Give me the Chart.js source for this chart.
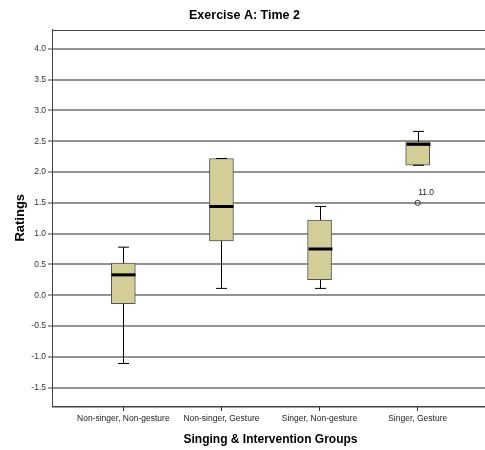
<!DOCTYPE html>
<html>
<head>
<meta charset="utf-8">
<script src="https://cdn.jsdelivr.net/npm/chart.js@4/dist/chart.umd.min.js"></script>
<style>
  html, body { margin: 0; padding: 0; background: #fff; overflow: hidden; }
  #wrap { width: 496px; height: 450px; }
</style>
</head>
<body>
<div id="wrap"><canvas id="chart" width="496" height="450"></canvas></div>
<script>
// Groups on the horizontal axis
const groups = ['Non-singer, Non-gesture', 'Non-singer, Gesture', 'Singer, Non-gesture', 'Singer, Gesture'];

// Five-number summaries per group
const whiskerLow  = [-1.11, 0.11, 0.11, 2.11];
const quartile1   = [-0.14, 0.88, 0.25, 2.11];
const medians     = [ 0.33, 1.44, 0.75, 2.45];
const quartile3   = [ 0.52, 2.22, 1.22, 2.49];
const whiskerHigh = [ 0.78, 2.22, 1.44, 2.66];

// Outlying cases: group index (1-based), value and case label
const outlierGroup = [4];
const outlierValue = [1.5];
const outlierLabel = ['11.0'];

// Rating axis ticks
const yTicks = [-1.5, -1.0, -0.5, 0.0, 0.5, 1.0, 1.5, 2.0, 2.5, 3.0, 3.5, 4.0];

const FONT = '"Liberation Sans", Arial, sans-serif';
const BOX_W = 24;
const CAP_W = 11;

// Whiskers, medians, outliers and the plot frame
const boxDecor = {
  id: 'boxDecor',
  afterDatasetsDraw(chart) {
    const { ctx, chartArea: a, scales: { x, y } } = chart;
    ctx.save();
    ctx.strokeStyle = '#000';
    groups.forEach((g, i) => {
      const px = Math.round(x.getPixelForValue(i + 1)) + 0.5;
      const yHi = y.getPixelForValue(whiskerHigh[i]);
      const yQ3 = y.getPixelForValue(quartile3[i]);
      const yQ1 = y.getPixelForValue(quartile1[i]);
      const yLo = y.getPixelForValue(whiskerLow[i]);
      const yMed = y.getPixelForValue(medians[i]);
      ctx.lineWidth = 1;
      ctx.beginPath();
      ctx.moveTo(px, yHi); ctx.lineTo(px, yQ3);
      ctx.moveTo(px, yQ1); ctx.lineTo(px, yLo);
      ctx.moveTo(px - CAP_W / 2, yHi); ctx.lineTo(px + CAP_W / 2, yHi);
      ctx.moveTo(px - CAP_W / 2, yLo); ctx.lineTo(px + CAP_W / 2, yLo);
      ctx.stroke();
      ctx.lineWidth = 3;
      ctx.beginPath();
      ctx.moveTo(px - BOX_W / 2, yMed); ctx.lineTo(px + BOX_W / 2, yMed);
      ctx.stroke();
    });
    outlierGroup.forEach((gi, k) => {
      const px = x.getPixelForValue(gi);
      const py = y.getPixelForValue(outlierValue[k]);
      ctx.lineWidth = 1;
      ctx.strokeStyle = '#333';
      ctx.beginPath();
      ctx.arc(px, py, 2.6, 0, Math.PI * 2);
      ctx.stroke();
      ctx.fillStyle = '#222';
      ctx.font = '8.5px ' + FONT;
      ctx.textAlign = 'left';
      ctx.textBaseline = 'middle';
      ctx.fillText(outlierLabel[k], px + 0.5, py - 10.5);
    });
    ctx.lineWidth = 1;
    ctx.strokeStyle = '#444';
    ctx.strokeRect(Math.round(a.left) + 0.5, Math.round(a.top) + 0.5, a.right - a.left, a.bottom - a.top);
    ctx.restore();
  }
};

new Chart(document.getElementById('chart'), {
  type: 'bar',
  data: {
    datasets: [{
      data: groups.map((g, i) => ({ x: i + 1, y: [quartile1[i], quartile3[i]] })),
      backgroundColor: '#d3ce97',
      borderColor: '#555',
      borderWidth: 1,
      borderSkipped: false,
      barThickness: BOX_W
    }]
  },
  options: {
    responsive: false,
    animation: false,
    devicePixelRatio: 1,
    layout: { padding: { left: 0, right: 7, top: 0, bottom: 0 } },
    plugins: {
      legend: { display: false },
      tooltip: { enabled: false },
      title: {
        display: true,
        text: 'Exercise A: Time 2',
        color: '#000',
        font: { family: FONT, size: 12.5, weight: 'bold' },
        padding: { top: 8.5, bottom: 6 }
      }
    },
    scales: {
      x: {
        type: 'linear',
        offset: false,
        min: 0.273,
        max: 4.727,
        afterBuildTicks: s => { s.ticks = groups.map((g, i) => ({ value: i + 1 })); },
        afterFit: s => { s.height = 44; },
        ticks: {
          autoSkip: false,
          maxRotation: 0,
          padding: 3,
          color: '#222',
          font: { family: FONT, size: 8.5 },
          callback: v => groups[v - 1]
        },
        grid: { offset: false, drawOnChartArea: false, drawTicks: true, tickLength: 5, tickColor: '#333' },
        border: { display: true, color: '#444' },
        title: {
          display: true,
          text: 'Singing & Intervention Groups',
          color: '#000',
          font: { family: FONT, size: 12, weight: 'bold' },
          padding: { top: 0, bottom: 3 }
        }
      },
      y: {
        min: -1.8,
        max: 4.315,
        afterBuildTicks: s => { s.ticks = yTicks.map(v => ({ value: v })); },
        afterFit: s => { s.width = 52; },
        ticks: {
          padding: 2,
          color: '#333',
          font: { family: FONT, size: 8.5 },
          callback: v => Number(v).toFixed(1)
        },
        grid: { color: '#939393', lineWidth: 2, tickLength: 4, tickColor: '#444', tickWidth: 1 },
        border: { display: true, color: '#444' },
        title: {
          display: true,
          text: 'Ratings',
          color: '#000',
          font: { family: FONT, size: 13, weight: 'bold' },
          padding: { top: 13, bottom: 0 }
        }
      }
    }
  },
  plugins: [boxDecor]
});
</script>
</body>
</html>
